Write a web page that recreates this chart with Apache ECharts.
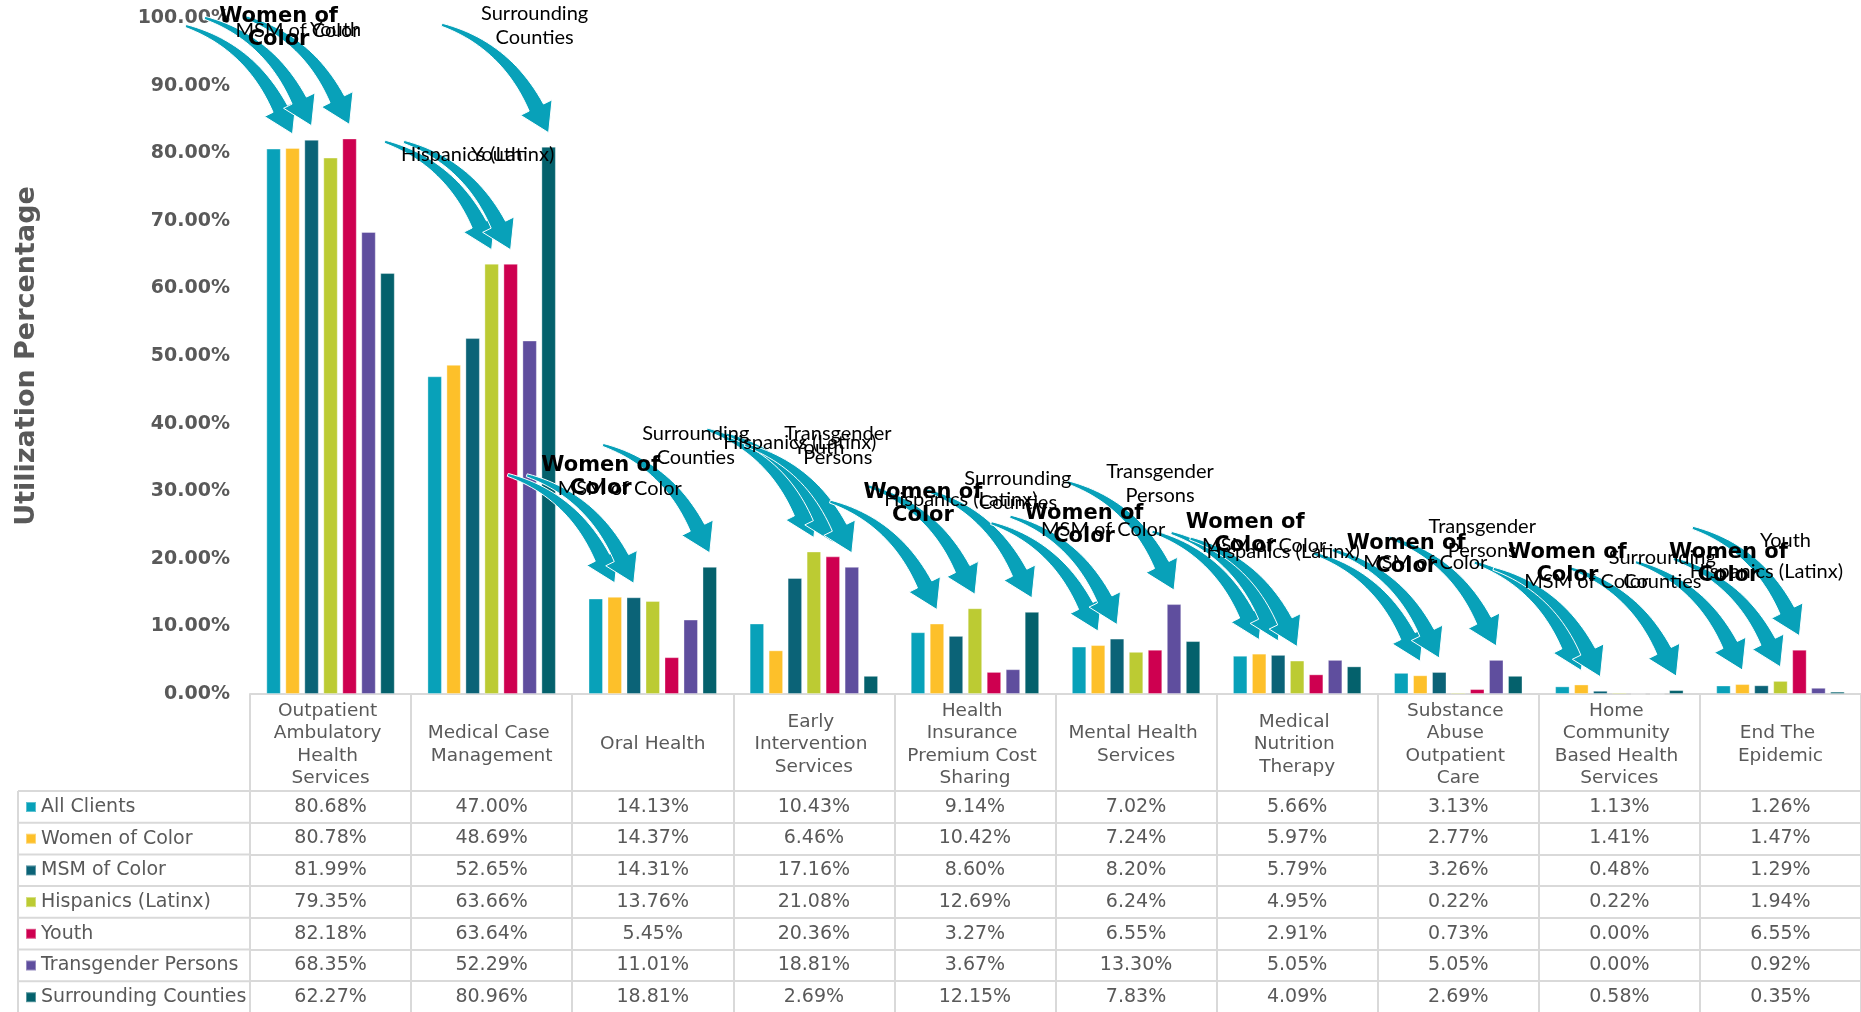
<!DOCTYPE html>
<html>
<head>
<meta charset="utf-8">
<title>Utilization Percentage</title>
<script src="https://cdn.jsdelivr.net/npm/echarts@6/dist/echarts.min.js"></script>
<style>
  html, body { margin: 0; padding: 0; background: #fff; }
  #chart { width: 1861px; height: 1012px; }
</style>
</head>
<body>
<div id="chart"></div>
<script>
const categories = [
  "Outpatient Ambulatory Health Services",
  "Medical Case Management",
  "Oral Health",
  "Early Intervention Services",
  "Health Insurance Premium Cost Sharing",
  "Mental Health Services",
  "Medical Nutrition Therapy",
  "Substance Abuse Outpatient Care",
  "Home Community Based Health Services",
  "End The Epidemic"
];
const seriesNames = ["All Clients", "Women of Color", "MSM of Color", "Hispanics (Latinx)", "Youth", "Transgender Persons", "Surrounding Counties"];
const colors = ["#08a1b9", "#fdc02a", "#0b6377", "#bccb33", "#ce0050", "#5f4e9e", "#04616c"];

const allClients = [80.68, 47.00, 14.13, 10.43, 9.14, 7.02, 5.66, 3.13, 1.13, 1.26];
const womenOfColor = [80.78, 48.69, 14.37, 6.46, 10.42, 7.24, 5.97, 2.77, 1.41, 1.47];
const msmOfColor = [81.99, 52.65, 14.31, 17.16, 8.60, 8.20, 5.79, 3.26, 0.48, 1.29];
const hispanics = [79.35, 63.66, 13.76, 21.08, 12.69, 6.24, 4.95, 0.22, 0.22, 1.94];
const youth = [82.18, 63.64, 5.45, 20.36, 3.27, 6.55, 2.91, 0.73, 0.00, 6.55];
const transgender = [68.35, 52.29, 11.01, 18.81, 3.67, 13.30, 5.05, 5.05, 0.00, 0.92];
const surrounding = [62.27, 80.96, 18.81, 2.69, 12.15, 7.83, 4.09, 2.69, 0.58, 0.35];
const rows = [allClients, womenOfColor, msmOfColor, hispanics, youth, transgender, surrounding];

// callout arrows: [category index, series index]
const callouts = [
  [0, 1], [0, 2], [0, 4],
  [1, 6], [1, 3], [1, 4],
  [2, 1], [2, 2], [2, 6],
  [3, 3], [3, 4], [3, 5],
  [4, 1], [4, 3], [4, 6],
  [5, 1], [5, 2], [5, 5],
  [6, 1], [6, 2], [6, 3],
  [7, 1], [7, 2], [7, 5],
  [8, 1], [8, 2], [8, 6],
  [9, 1], [9, 3], [9, 4]
];
const calloutText = ["All Clients", "Women of\nColor", "MSM of Color", "Hispanics (Latinx)", "Youth", "Transgender\nPersons", "Surrounding\nCounties"];

const gridLeft = 250, gridTop = 18, plotBottom = 694;
const headerH = 97, rowH = 31.7;
const barW = 14.5, barGapRatio = 0.31;
const barStep = barW * (1 + barGapRatio);
const gray = "#595959", lineGray = "#d9d9d9";
const tableFont = "DejaVu Sans";

function arrowPoints(tx, ty) {
  const sx = tx - 107, sy = ty - 108;
  const dl = Math.hypot(0.44, 0.9);
  const ux = 0.44 / dl, uy = 0.9 / dl;
  const headLen = 28, headHalf = 17.5;
  const ex = tx - ux * headLen, ey = ty - uy * headLen;
  const t = (ey - sy - 20) / uy;
  const cx = ex - ux * t, cy = ey - uy * t;
  const left = [], right = [];
  for (let i = 0; i <= 24; i++) {
    const u = i / 24;
    const px = (1 - u) * (1 - u) * sx + 2 * (1 - u) * u * cx + u * u * ex;
    const py = (1 - u) * (1 - u) * sy + 2 * (1 - u) * u * cy + u * u * ey;
    const gx = 2 * (1 - u) * (cx - sx) + 2 * u * (ex - cx);
    const gy = 2 * (1 - u) * (cy - sy) + 2 * u * (ey - cy);
    const gl = Math.hypot(gx, gy);
    const nx = -gy / gl, ny = gx / gl;
    const w = 1.5 + 6.5 * u;
    left.push([px + nx * w, py + ny * w]);
    right.push([px - nx * w, py - ny * w]);
  }
  const hx = -uy, hy = ux;
  return left.concat(
    [[ex + hx * headHalf, ey + hy * headHalf], [tx, ty], [ex - hx * headHalf, ey - hy * headHalf]],
    right.reverse()
  );
}

function renderCallout(params, api) {
  const cat = api.value(0), val = api.value(1), s = api.value(2);
  const base = api.coord([cat, val]);
  const tx = base[0] + (s - 3) * barStep;
  const ty = base[1] - 14;
  const bold = s === 1;
  return {
    type: "group",
    children: [
      {
        type: "text",
        z2: 10,
        style: {
          text: calloutText[s],
          x: tx - 14,
          y: ty - 83,
          align: "center",
          verticalAlign: "bottom",
          fontFamily: bold ? "DejaVu Sans" : "Lato",
          fontWeight: bold ? "bold" : "normal",
          fontSize: bold ? 21 : 20,
          lineHeight: bold ? 23 : 24,
          fill: "#000"
        }
      },
      {
        type: "polygon",
        shape: { points: arrowPoints(tx, ty) },
        style: { fill: "#08a1b9", stroke: "#fff", lineWidth: 1 }
      }
    ]
  };
}

const headerAxis = {
  type: "category",
  gridIndex: 0,
  position: "bottom",
  data: categories,
  axisLine: { lineStyle: { color: lineGray, width: 2 } },
  axisTick: { show: true, interval: 0, length: headerH, lineStyle: { color: lineGray, width: 2 } },
  axisLabel: {
    interval: 0,
    margin: headerH / 2 + 2,
    verticalAlign: "middle",
    width: 138,
    overflow: "break",
    lineHeight: 22.5,
    fontSize: 18.5,
    color: gray,
    fontFamily: tableFont
  }
};

const rowAxes = rows.map((vals, k) => ({
  type: "category",
  gridIndex: 0,
  position: "bottom",
  offset: headerH + rowH * k,
  data: vals.map((v) => v.toFixed(2) + "%"),
  axisLine: { lineStyle: { color: lineGray, width: 2 } },
  axisTick: { show: true, interval: 0, length: rowH, lineStyle: { color: lineGray, width: 2 } },
  axisLabel: {
    interval: 0,
    margin: rowH / 2,
    verticalAlign: "middle",
    fontSize: 19,
    color: gray,
    fontFamily: tableFont
  }
}));

// left column borders of the data table
const tableLines = [];
for (let k = 0; k <= 7; k++) {
  const y = plotBottom + headerH + rowH * k;
  tableLines.push({ type: "line", shape: { x1: 18, y1: y, x2: gridLeft, y2: y }, style: { stroke: lineGray, lineWidth: 2 } });
}
tableLines.push({
  type: "line",
  shape: { x1: 18, y1: plotBottom + headerH, x2: 18, y2: 1012 },
  style: { stroke: lineGray, lineWidth: 2 }
});

let charts = echarts.init(document.getElementById("chart"));
charts.setOption({
  animation: false,
  color: colors,
  grid: { left: gridLeft, right: 0, top: gridTop, bottom: 1012 - plotBottom },
  legend: {
    data: seriesNames,
    orient: "vertical",
    left: 25,
    top: plotBottom + headerH + 6,
    padding: 0,
    itemWidth: 10,
    itemHeight: 10,
    itemGap: rowH - 20,
    icon: "rect",
    selectedMode: false,
    textStyle: { fontSize: 19, color: gray, fontFamily: tableFont, lineHeight: 20 }
  },
  xAxis: [headerAxis].concat(rowAxes),
  yAxis: {
    type: "value",
    min: 0,
    max: 100,
    interval: 10,
    name: "Utilization Percentage",
    nameLocation: "middle",
    nameGap: 210,
    nameTextStyle: { fontSize: 27, fontWeight: "bold", color: gray, fontFamily: tableFont },
    axisLine: { show: false },
    axisTick: { show: false },
    splitLine: { show: false },
    axisLabel: {
      margin: 20,
      fontSize: 19,
      fontWeight: "bold",
      color: gray,
      fontFamily: tableFont,
      formatter: (v) => v.toFixed(2) + "%"
    }
  },
  graphic: tableLines,
  series: seriesNames
    .map((name, i) => ({
      name: name,
      type: "bar",
      xAxisIndex: 0,
      data: rows[i],
      barWidth: barW,
      barGap: barGapRatio * 100 + "%",
      itemStyle: { borderColor: "rgba(255,255,255,0.35)", borderWidth: 1 }
    }))
    .concat([
      {
        type: "custom",
        xAxisIndex: 0,
        yAxisIndex: 0,
        z: 5,
        clip: false,
        silent: true,
        encode: { x: 0, y: 1 },
        renderItem: renderCallout,
        data: callouts.map((c) => [c[0], rows[c[1]][c[0]], c[1]])
      }
    ])
});
</script>
</body>
</html>
